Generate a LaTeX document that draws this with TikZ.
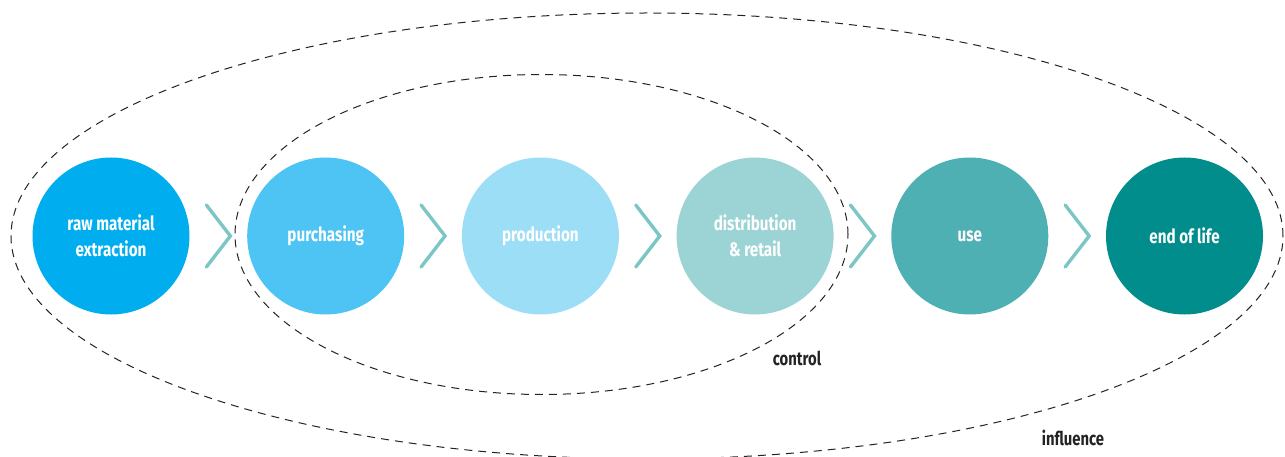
\documentclass[tikz,border=0pt]{standalone}
\usepackage{fontspec}
\setsansfont{Fira Sans}[FakeStretch=0.78]
\usepackage{tikz}
\usetikzlibrary{positioning, calc}
\definecolor{etapaA}{HTML}{00AEEF}
\definecolor{etapaB}{HTML}{4DC4F3}
\definecolor{etapaC}{HTML}{9DDEF7}
\definecolor{etapaD}{HTML}{9CD3D5}
\definecolor{etapaE}{HTML}{4FB0B3}
\definecolor{etapaF}{HTML}{008D8C}
\definecolor{flecha}{HTML}{7CC6C6}
\definecolor{trazo}{HTML}{232323}
\tikzset{
	x=1pt, y=-1pt, % Unidades en puntos, eje y hacia abajo
	node distance=214.7pt, % Distancia entre centros de las etapas
	etapa/.style={circle, minimum size=157pt, inner sep=0pt, text=white,
		align=center, font=\sffamily\bfseries\fontsize{19.5}{26}\selectfont}, % Circulos
	chevron/.style={flecha, line width=3.4pt, line cap=round, line join=miter}, % Separadores
	limite/.style={trazo, line width=1pt, dash pattern=on 8pt off 6pt}, % Elipses
	rotulo/.style={trazo, font=\sffamily\bfseries\fontsize{19}{22}\selectfont} % Textos de las elipses
}

\begin{document}
\begin{tikzpicture}
	\useasboundingbox (0,0) rectangle (1285,457);
	\node[etapa, fill=etapaA] (c1) at (111,236) {raw material\\extraction};
	\node[etapa, fill=etapaB, right of=c1] (c2) {purchasing};
	\node[etapa, fill=etapaC, right of=c2] (c3) {production};
	\node[etapa, fill=etapaD, right of=c3] (c4) {distribution\\\& retail};
	\node[etapa, fill=etapaE, right of=c4] (c5) {use};
	\node[etapa, fill=etapaF, right of=c5] (c6) {end of life};
	\foreach \a/\b in {c1/c2, c2/c3, c3/c4, c4/c5, c5/c6}
		\draw[chevron] ([xshift=-12pt, yshift=31pt]$(\a)!0.5!(\b)$) -- ([xshift=12pt]$(\a)!0.5!(\b)$) -- ([xshift=-12pt, yshift=-31pt]$(\a)!0.5!(\b)$);
	\draw[limite] (541.5,234.5) ellipse [x radius=306.5pt, y radius=160pt];
	\draw[limite] (647,236) ellipse [x radius=636pt, y radius=223pt];
	\node[rotulo] (control) at (797,358) {control};
	\node[rotulo] (influence) at (1073,438) {influence};
\end{tikzpicture}
\end{document}
